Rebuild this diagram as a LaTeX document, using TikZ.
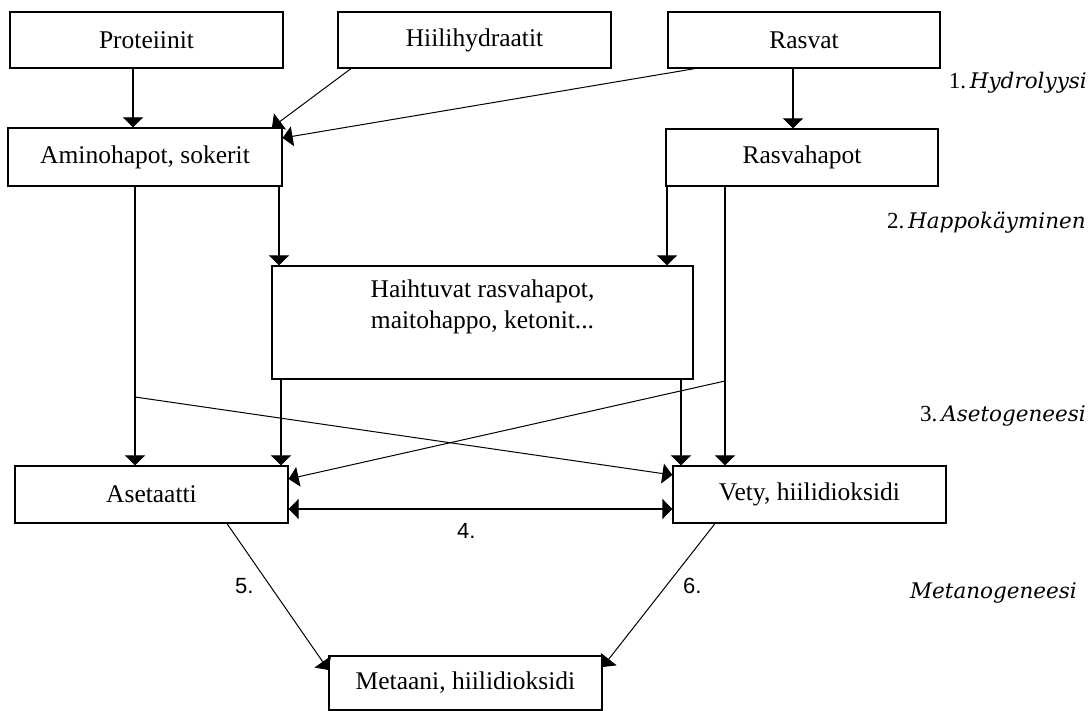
\documentclass[tikz,border=0pt]{standalone}
\usepackage{fontspec}
\setmainfont{Liberation Serif}
\newfontfamily\lblfont{DejaVu Serif}
\newfontfamily\numfont{Liberation Sans}
\usetikzlibrary{arrows.meta,calc}
\begin{document}
\begin{tikzpicture}[x=1pt,y=-1pt,
  box/.style={draw,line width=1.2pt,rectangle,inner sep=0pt,font=\fontsize{25.5}{31}\selectfont,align=center},
  arr/.style={line width=1.2pt,-{Triangle[length=10pt,width=20pt]}},
  darr/.style={line width=1.2pt,{Triangle[length=10pt,width=20pt]}-{Triangle[length=10pt,width=20pt]}},
  slant/.style={line width=1pt,-{Triangle[length=10pt,width=20pt]}},
  phase/.style={anchor=base east,inner sep=0pt},
  num/.style={anchor=base west,inner sep=0pt,font=\numfont\fontsize{22}{26}\selectfont}]
\useasboundingbox[fill=white] (0,0) rectangle (1088,711);

% boxes
\node[box,minimum width=273pt,minimum height=56pt] (prot)   at (146.5,40)  {Proteiinit};
\node[box,minimum width=273pt,minimum height=56pt] (hiili)  at (474.5,40)  {Hiilihydraatit};
\node[box,minimum width=272pt,minimum height=56pt] (rasvat) at (804,40)    {Rasvat};
\node[box,minimum width=274pt,minimum height=58pt] (amino)  at (145,157)   {Aminohapot, sokerit};
\node[box,minimum width=272pt,minimum height=57pt] (rasvah) at (802,157.5) {Rasvahapot};
\node[box,minimum width=421pt,minimum height=113pt] (haiht) at (482.5,322.5) {Haihtuvat rasvahapot,\\ maitohappo, ketonit...\\[6pt]};
\node[box,minimum width=273pt,minimum height=57pt] (aset)   at (151.5,494.5) {Asetaatti};
\node[box,minimum width=273pt,minimum height=57pt] (vety)   at (809.5,494.5) {Vety, hiilidioksidi};
\node[box,minimum width=273pt,minimum height=54pt] (metaani) at (465.5,683) {Metaani, hiilidioksidi};

% helper columns / rows
\coordinate (x133) at (133,0);
\coordinate (x135) at (135,0);
\coordinate (x272) at (272,0);
\coordinate (x279) at (279,0);
\coordinate (x281) at (281,0);
\coordinate (x351) at (351,0);
\coordinate (x667) at (667,0);
\coordinate (x681) at (681,0);
\coordinate (x695) at (695,0);
\coordinate (x725) at (725,0);
\coordinate (x793) at (793,0);
\coordinate (x227) at (227,0);
\coordinate (x715) at (715,0);
\coordinate (y138) at (0,138);
\coordinate (y475) at (0,475);
\coordinate (y479) at (0,479);
\coordinate (y509) at (0,509);
\coordinate (y670) at (0,670);
\coordinate (y667) at (0,667);
\coordinate (s1) at (135,397);
\coordinate (s2) at (725,381);

% hydrolysis
\draw[arr] (prot.south -| x133) -- (amino.north -| x133);
\draw[slant] (hiili.south -| x351) -- (amino.north -| x272);
\draw[slant] (rasvat.south -| x695) -- (amino.east |- y138);
\draw[arr] (rasvat.south -| x793) -- (rasvah.north -| x793);

% acidogenesis
\draw[arr] (amino.south -| x279) -- (haiht.north -| x279);
\draw[arr] (rasvah.south -| x667) -- (haiht.north -| x667);

% acetogenesis
\draw[arr] (amino.south -| x135) -- (aset.north -| x135);
\draw[arr] (rasvah.south -| x725) -- (vety.north -| x725);
\draw[arr] (haiht.south -| x281) -- (aset.north -| x281);
\draw[arr] (haiht.south -| x681) -- (vety.north -| x681);
\draw[slant] (s1) -- (vety.west |- y475);
\draw[slant] (s2) -- (aset.east |- y479);
\draw[darr] (aset.east |- y509) -- (vety.west |- y509);

% methanogenesis
\draw[slant] (aset.south -| x227) -- (metaani.west |- y670);
\draw[slant] (vety.south -| x715) -- (metaani.east |- y667);

% numbers
\node[num] (n4) at (457,538) {4.};
\node[num] (n5) at (235,593) {5.};
\node[num] (n6) at (683,593) {6.};

% phase labels
\node[phase] (p1) at (1087,89)  {\fontsize{23}{27}\selectfont 1.\,{\lblfont\itshape\fontsize{21.5}{25}\selectfont Hydrolyysi}};
\node[phase] (p2) at (1086,229) {\fontsize{23}{27}\selectfont 2.\,{\lblfont\itshape\fontsize{21.5}{25}\selectfont Happokäyminen}};
\node[phase] (p3) at (1086,422) {\fontsize{23}{27}\selectfont 3.\,{\lblfont\itshape\fontsize{21.5}{25}\selectfont Asetogeneesi}};
\node[phase] (p4) at (1077,598) {{\lblfont\itshape\fontsize{21.5}{25}\selectfont Metanogeneesi}};
\end{tikzpicture}
\end{document}
